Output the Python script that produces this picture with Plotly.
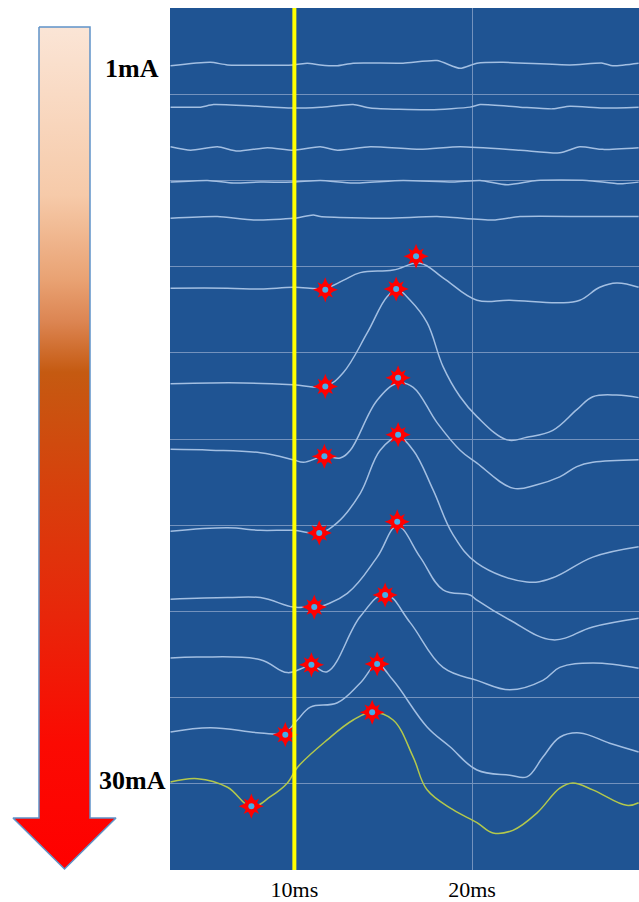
import plotly.graph_objects as go

# ---------------- data (time in ms, amplitude in display units 0-100) ----------------
t1_x = [3.03, 5.28, 6.24, 9.94, 10.73, 11.46, 12.42, 13.31, 16.12, 18.03, 19.33, 20.28, 21.74, 25.51, 27.36, 27.92, 29.38]
t1_y = [93.3, 93.7, 93.4, 93.4, 93.6, 93.4, 93.3, 93.6, 93.6, 93.9, 93.0, 93.6, 93.7, 93.4, 93.6, 93.3, 93.6]

t2_x = [3.03, 4.72, 5.45, 8.82, 9.94, 11.46, 13.31, 14.27, 17.64, 19.89, 20.45, 22.70, 24.55, 25.51, 27.36, 29.38]
t2_y = [88.5, 88.5, 88.8, 88.5, 88.4, 88.5, 88.8, 88.4, 88.2, 88.5, 88.8, 88.5, 88.3, 88.6, 88.4, 88.5]

t3_x = [3.03, 4.16, 5.67, 6.80, 8.48, 9.94, 11.46, 12.42, 14.27, 17.08, 19.33, 22.70, 24.94, 26.07, 27.36, 29.38]
t3_y = [83.9, 83.5, 83.9, 83.4, 83.8, 83.5, 83.9, 83.5, 83.9, 83.6, 83.9, 83.5, 83.2, 83.9, 83.6, 83.8]

t4_x = [3.03, 5.11, 6.57, 8.09, 9.94, 11.46, 13.31, 16.12, 18.93, 20.45, 21.97, 23.65, 26.46, 28.31, 29.38]
t4_y = [79.8, 80.0, 79.7, 79.8, 79.8, 80.0, 79.7, 80.0, 79.8, 80.0, 79.5, 80.0, 80.0, 79.6, 79.8]

t5_x = [3.03, 5.67, 7.70, 9.94, 11.07, 11.46, 15.22, 18.03, 21.18, 22.70, 26.46, 29.38]
t5_y = [75.6, 75.8, 75.4, 75.6, 76.0, 75.8, 75.6, 75.8, 75.4, 75.8, 75.8, 75.8]

t6_x = [3.03, 6.24, 8.09, 9.94, 11.74, 12.75, 13.71, 15.56, 17.08, 18.37, 20.28, 22.13, 24.94, 26.07, 27.19, 28.15, 29.38]
t6_y = [67.5, 67.5, 67.4, 67.6, 67.5, 68.4, 69.3, 69.6, 70.4, 68.7, 66.1, 66.1, 65.8, 66.1, 67.6, 68.1, 67.6]

t7_x = [3.03, 5.28, 7.13, 9.94, 11.74, 12.75, 14.10, 15.22, 15.79, 16.52, 17.47, 18.37, 19.33, 20.28, 21.97, 23.09, 24.55, 25.90, 26.80, 28.15, 29.38]
t7_y = [56.4, 56.5, 56.5, 56.3, 56.1, 57.7, 62.3, 66.5, 67.3, 66.1, 63.5, 58.4, 54.9, 52.6, 49.9, 50.2, 51.0, 53.4, 54.9, 55.1, 54.8]

t8_x = [3.03, 5.28, 8.09, 9.94, 10.51, 11.69, 12.58, 13.15, 14.66, 15.84, 16.69, 18.03, 19.33, 20.28, 22.30, 23.65, 24.94, 25.90, 26.80, 29.38]
t8_y = [48.8, 48.7, 48.4, 47.6, 47.3, 48.0, 47.8, 48.7, 54.5, 56.5, 56.0, 51.9, 48.7, 47.2, 44.3, 44.7, 45.6, 46.8, 47.3, 47.6]

t9_x = [3.03, 6.24, 8.09, 9.94, 11.40, 12.42, 13.71, 14.83, 15.84, 16.69, 17.81, 18.93, 20.28, 23.09, 24.55, 26.80, 29.38]
t9_y = [39.3, 39.7, 39.4, 39.4, 39.1, 40.3, 43.7, 48.7, 50.2, 48.7, 44.1, 38.9, 35.6, 33.4, 33.9, 36.3, 37.5]

t10_x = [3.03, 6.24, 8.09, 9.94, 10.73, 11.12, 12.98, 14.66, 15.79, 17.08, 18.37, 19.89, 20.28, 22.13, 24.55, 26.80, 29.38]
t10_y = [31.4, 31.6, 31.6, 30.5, 30.5, 30.4, 32.1, 36.3, 39.9, 36.3, 32.5, 31.9, 31.3, 29.0, 26.7, 28.2, 29.2]

t11_x = [3.03, 4.61, 8.09, 9.61, 10.96, 11.85, 13.71, 15.11, 16.52, 18.37, 20.28, 22.13, 23.99, 24.94, 26.80, 29.38]
t11_y = [24.6, 24.7, 24.4, 22.9, 23.7, 23.0, 29.4, 32.0, 28.7, 23.5, 22.0, 20.9, 22.0, 23.5, 24.0, 23.4]

t12_x = [3.03, 5.28, 8.09, 9.44, 10.17, 10.90, 12.42, 13.71, 14.66, 15.56, 17.47, 18.76, 20.28, 22.13, 23.09, 23.99, 24.94, 26.07, 27.75, 29.38]
t12_y = [16.0, 16.5, 15.9, 15.9, 17.4, 18.9, 19.4, 21.7, 23.8, 22.0, 16.6, 14.3, 11.6, 11.0, 10.8, 13.1, 15.4, 15.9, 14.7, 13.7]

t13_x = [3.03, 4.55, 6.24, 7.58, 8.65, 9.61, 10.17, 11.85, 13.31, 14.38, 15.56, 16.69, 17.47, 18.93, 20.28, 21.18, 22.30, 23.65, 24.94, 25.67, 26.80, 28.71, 29.38]
t13_y = [10.2, 10.6, 9.6, 7.3, 8.5, 10.1, 11.9, 15.1, 17.4, 18.3, 17.4, 13.1, 9.3, 7.0, 5.5, 4.3, 4.6, 6.6, 9.5, 10.1, 9.3, 7.5, 7.8]

onset_x = [11.74, 11.74, 11.69, 11.40, 11.12, 10.96, 9.49, 7.58]
onset_y = [67.3, 56.1, 48.0, 39.1, 30.5, 23.8, 15.7, 7.4]
peak_x = [16.85, 15.73, 15.84, 15.84, 15.79, 15.11, 14.66, 14.38]
peak_y = [71.2, 67.4, 57.1, 50.5, 40.4, 31.9, 23.9, 18.3]

stim_ms = 10
tick_vals = [10, 20]
tick_text = ["10ms", "20ms"]
label_top = "1mA"
label_bottom = "30mA"

# ---------------- figure ----------------
W, H = 639, 902
PX_L, PX_T, PX_B = 170, 8, 870

fig = go.Figure()

gray_traces = [(t1_x, t1_y), (t2_x, t2_y), (t3_x, t3_y), (t4_x, t4_y), (t5_x, t5_y),
               (t6_x, t6_y), (t7_x, t7_y), (t8_x, t8_y), (t9_x, t9_y), (t10_x, t10_y),
               (t11_x, t11_y), (t12_x, t12_y)]
for i, (xs, ys) in enumerate(gray_traces):
    fig.add_trace(go.Scatter(x=xs, y=ys, mode="lines",
                             line=dict(color="#a3bfe2", width=1.5,
                                       shape="spline", smoothing=1.1 if i >= 5 else 0.6),
                             hoverinfo="skip", showlegend=False))
fig.add_trace(go.Scatter(x=t13_x, y=t13_y, mode="lines",
                         line=dict(color="#b3c84c", width=1.5, shape="spline", smoothing=1.1),
                         hoverinfo="skip", showlegend=False))

mx = onset_x + peak_x
my = onset_y + peak_y
for sym, size, col in [("star-diamond", 18, "#ff0000"), ("star-square", 14, "#ff0000"),
                       ("circle", 6, "#45aee8")]:
    fig.add_trace(go.Scatter(x=mx, y=my, mode="markers",
                             marker=dict(symbol=sym, size=size, color=col, line=dict(width=0)),
                             hoverinfo="skip", showlegend=False))

# gradient arrow on the left (decorative), drawn in a pixel-like overlay axis
arrow_x = [39, 90, 90, 116, 64.5, 13, 39, 39]
arrow_y = [27, 27, 818, 818, 869, 818, 818, 27]
fig.add_trace(go.Scatter(
    x=arrow_x, y=arrow_y, xaxis="x2", yaxis="y2", mode="lines", fill="toself",
    line=dict(color="#5f93c9", width=1.5),
    fillgradient=dict(type="vertical", start=27, stop=869,
                      colorscale=[[0.0, "#fbe5d6"], [0.2, "#f6caa9"], [0.3, "#e9a273"],
                                  [0.35, "#dc8552"], [0.41, "#c55a11"], [0.55, "#d7400c"],
                                  [0.70, "#e8260a"], [0.85, "#fb0a02"], [1.0, "#ff0000"]]),
    hoverinfo="skip", showlegend=False))

fig.update_layout(
    width=W, height=H, template="none",
    margin=dict(l=0, r=0, t=0, b=0),
    paper_bgcolor="white", plot_bgcolor="rgba(0,0,0,0)",
    xaxis=dict(domain=[PX_L / W, 1], range=[3, 29.4], tickvals=tick_vals, ticktext=tick_text,
               showgrid=True, gridcolor="#7392bd", gridwidth=1, zeroline=False,
               showline=False, ticks="", automargin=False, ticklabelstandoff=4,
               tickfont=dict(family="Liberation Serif", size=22, color="black")),
    yaxis=dict(domain=[(H - PX_B) / H, (H - PX_T) / H], range=[0, 100], dtick=10, tick0=0,
               showgrid=True, gridcolor="#7392bd", gridwidth=1, zeroline=False,
               showticklabels=False, ticks="", showline=False, automargin=False),
    xaxis2=dict(domain=[0, 160 / W], range=[0, 160], visible=False, anchor="y2"),
    yaxis2=dict(domain=[0, 1], range=[H, 0], visible=False, anchor="x2"),
    shapes=[
        dict(type="rect", xref="x domain", yref="y domain", x0=0, x1=1, y0=0, y1=1,
             fillcolor="#1f5493", line=dict(width=0), layer="below"),
        dict(type="line", xref="x", yref="y domain", x0=stim_ms, x1=stim_ms, y0=0, y1=1,
             line=dict(color="#ffff00", width=4), layer="above"),
    ],
    annotations=[
        dict(text="<b>" + label_top + "</b>", xref="paper", yref="paper",
             x=161 / W, y=1 - 68 / H, xanchor="right", yanchor="middle", showarrow=False,
             font=dict(family="Liberation Serif", size=26, color="black")),
        dict(text="<b>" + label_bottom + "</b>", xref="paper", yref="paper",
             x=168 / W, y=1 - 780 / H, xanchor="right", yanchor="middle", showarrow=False,
             font=dict(family="Liberation Serif", size=26, color="black")),
    ],
)

fig.write_html("out.html", config={"displayModeBar": False},
               post_script="document.body.style.margin='0';document.body.style.overflow='hidden';")
